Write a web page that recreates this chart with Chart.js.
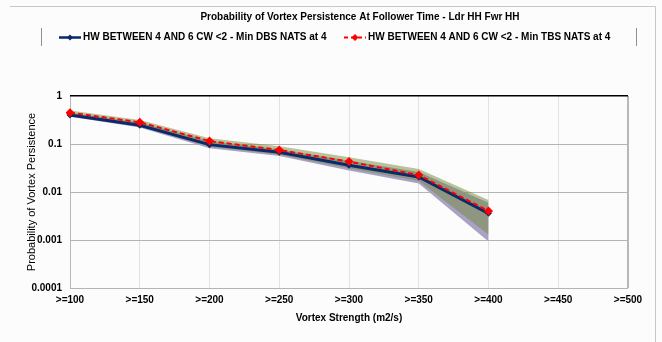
<!DOCTYPE html>
<html>
<head>
<meta charset="utf-8">
<script src="https://cdn.jsdelivr.net/npm/chart.js@4"></script>
<style>
  html, body { margin: 0; padding: 0; background: #ffffff; }
  #wrap { width: 662px; height: 342px; position: relative; }
</style>
</head>
<body>
<div id="wrap"><canvas id="chart" width="662" height="342"></canvas></div>
<script>
// categories on the x axis
const categories = ['>=100', '>=150', '>=200', '>=250', '>=300', '>=350', '>=400', '>=450', '>=500'];

// main series
const dbsValues = [0.40, 0.245, 0.097, 0.067, 0.036, 0.0205, 0.0036, null, null];
const tbsValues = [0.45, 0.283, 0.115, 0.075, 0.043, 0.0226, 0.0040, null, null];

// shaded bands
const dbsLower = [0.37, 0.22, 0.082, 0.056, 0.028, 0.015, 0.00093, null, null];
const dbsUpper = [0.45, 0.28, 0.115, 0.077, 0.045, 0.026, 0.006, null, null];
const tbsLower = [0.385, 0.232, 0.088, 0.06, 0.031, 0.017, 0.0013, null, null];
const tbsUpper = [0.50, 0.315, 0.132, 0.09, 0.053, 0.030, 0.0068, null, null];

const yTicks = [1, 0.1, 0.01, 0.001, 0.0001];
const yTickLabels = ['1', '0.1', '0.01', '0.001', '0.0001'];

const titleText = 'Probability of Vortex Persistence At Follower Time - Ldr HH Fwr HH';
const legendLabels = ['HW BETWEEN 4 AND 6 CW <2 - Min DBS NATS at 4', 'HW BETWEEN 4 AND 6 CW <2 - Min TBS NATS at 4'];

const FONT = '"Liberation Sans", Arial, sans-serif';

// title, legend and outer frame
const decorPlugin = {
    id: 'decor',
    beforeDraw(chart) {
        const ctx = chart.ctx;
        ctx.save();
        ctx.fillStyle = '#fcfcfc';
        ctx.fillRect(0, 0, 662, 342);
        ctx.strokeStyle = '#c8c8c8';
        ctx.lineWidth = 1;
        ctx.beginPath();
        ctx.moveTo(10, 6.5); ctx.lineTo(655.5, 6.5); ctx.lineTo(655.5, 342);
        ctx.stroke();
        ctx.restore();
    },
    afterDraw(chart) {
        const ctx = chart.ctx;
        ctx.save();
        ctx.fillStyle = '#000';
        ctx.textBaseline = 'middle';
        ctx.font = 'bold 10px ' + FONT;
        ctx.textAlign = 'center';
        ctx.fillText(titleText, 360, 17);

        // legend box sides
        ctx.strokeStyle = '#909090';
        ctx.lineWidth = 1;
        ctx.beginPath();
        ctx.moveTo(41.5, 28); ctx.lineTo(41.5, 46);
        ctx.moveTo(636.5, 28); ctx.lineTo(636.5, 46);
        ctx.stroke();

        const items = [
            { x: 59, color: '#0a2a6a', dash: [], w: 2.5, r: 3, label: legendLabels[0] },
            { x: 344, color: '#ff0000', dash: [4, 3], w: 2, r: 3.5, label: legendLabels[1] }
        ];
        ctx.textAlign = 'left';
        items.forEach(it => {
            ctx.strokeStyle = it.color;
            ctx.lineWidth = it.w;
            ctx.setLineDash(it.dash);
            ctx.beginPath();
            ctx.moveTo(it.x, 37.5); ctx.lineTo(it.x + 22, 37.5);
            ctx.stroke();
            ctx.setLineDash([]);
            ctx.fillStyle = it.color;
            ctx.beginPath();
            const cx = it.x + 11;
            ctx.moveTo(cx, 37.5 - it.r); ctx.lineTo(cx + it.r, 37.5); ctx.lineTo(cx, 37.5 + it.r); ctx.lineTo(cx - it.r, 37.5);
            ctx.closePath(); ctx.fill();
            ctx.fillStyle = '#000';
            ctx.fillText(it.label, it.x + 24, 37.5);
        });
        ctx.restore();
    }
};

// lower index is drawn on top in Chart.js, so lines come first, bands last
new Chart(document.getElementById('chart'), {
    type: 'line',
    data: {
        labels: categories,
        datasets: [
            {
                label: legendLabels[1], data: tbsValues, borderColor: '#ff0000', borderWidth: 2, borderDash: [5, 3],
                pointStyle: 'rectRot', pointRadius: 4.5, pointBackgroundColor: '#ff0000', pointBorderWidth: 0, fill: false, tension: 0
            },
            {
                label: legendLabels[0], data: dbsValues, borderColor: '#0a2a6a', borderWidth: 3,
                pointStyle: 'rectRot', pointRadius: 3.5, pointBackgroundColor: '#0a2a6a', pointBorderWidth: 0, fill: false, tension: 0
            },
            { data: tbsUpper, borderWidth: 0, pointRadius: 0, fill: '+1', backgroundColor: 'rgba(113,137,57,0.5)' },
            { data: tbsLower, borderWidth: 0, pointRadius: 0, fill: false, backgroundColor: 'rgba(0,0,0,0)' },
            { data: dbsUpper, borderWidth: 0, pointRadius: 0, fill: '+1', backgroundColor: 'rgb(170,162,198)' },
            { data: dbsLower, borderWidth: 0, pointRadius: 0, fill: false, backgroundColor: 'rgba(0,0,0,0)' }
        ]
    },
    options: {
        responsive: false,
        animation: false,
        layout: { padding: { left: 20, right: 34, top: 96, bottom: 18 } },
        plugins: {
            legend: { display: false },
            title: { display: false },
            tooltip: { enabled: false }
        },
        scales: {
            x: {
                type: 'category',
                offset: false,
                grid: {
                    color: ctx => (ctx.index === 0 || ctx.index === categories.length - 1) ? '#b8b8b8' : '#e2e2e2',
                    lineWidth: ctx => ctx.index === categories.length - 1 ? 2 : 1,
                    drawTicks: false
                },
                border: { display: false },
                ticks: { color: '#000', font: { family: FONT, size: 10, weight: 'bold' }, padding: 6, maxRotation: 0, autoSkip: false },
                title: { display: true, text: 'Vortex Strength (m2/s)', color: '#000', font: { family: FONT, size: 10, weight: 'bold' }, padding: { top: 1, bottom: 0 } },
                afterFit: s => { s.height = 36; }
            },
            y: {
                type: 'logarithmic',
                min: 0.0001,
                max: 1,
                afterBuildTicks: s => { s.ticks = yTicks.map(v => ({ value: v })); },
                grid: {
                    color: ctx => ctx.tick && ctx.tick.value === 1 ? '#000' : '#b4b4b4',
                    lineWidth: ctx => ctx.tick && ctx.tick.value === 1 ? 1.5 : 1,
                    drawTicks: false
                },
                border: { display: false },
                ticks: {
                    color: '#000',
                    font: { family: FONT, size: 10, weight: 'bold' },
                    padding: 8,
                    callback: v => yTickLabels[yTicks.indexOf(v)]
                },
                title: { display: true, text: 'Probability of Vortex Persistence', color: '#000', font: { family: FONT, size: 11 }, padding: { top: 5, bottom: 0 } },
                afterFit: s => { s.width = 50; }
            }
        }
    },
    plugins: [decorPlugin]
});
</script>
</body>
</html>
